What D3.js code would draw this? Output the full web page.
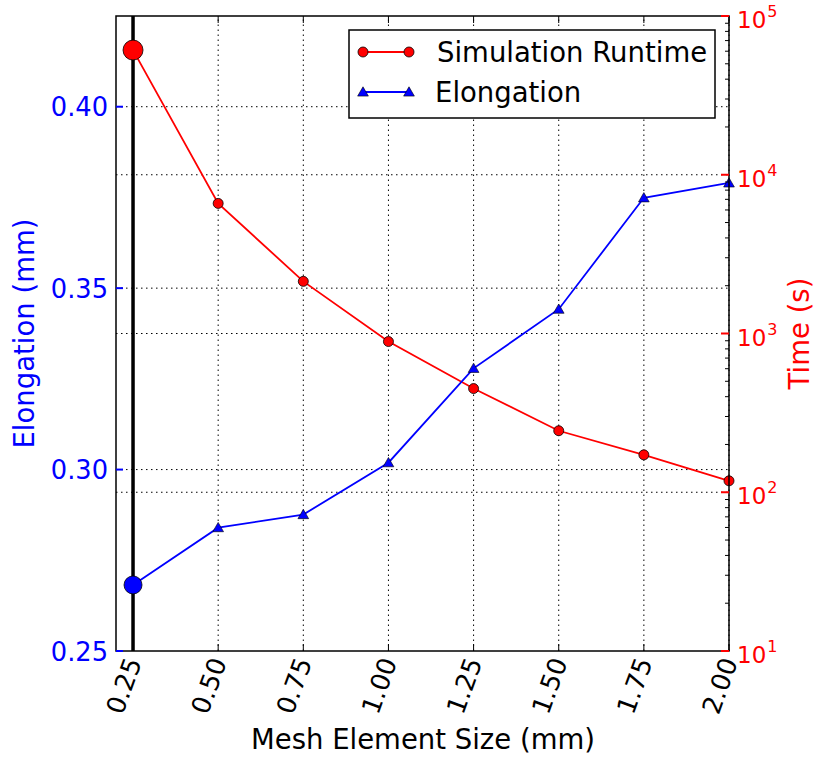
<!DOCTYPE html>
<html>
<head>
<meta charset="utf-8">
<script src="https://cdn.jsdelivr.net/npm/d3@7"></script>
<style>
  body { margin: 0; background: #fff; }
  text { font-family: "DejaVu Sans", sans-serif; }
</style>
</head>
<body>
<div id="viz"></div>
<script>
const meshSizes = [0.25, 0.50, 0.75, 1.00, 1.25, 1.50, 1.75, 2.00];
const runtime = [61000, 6600, 2130, 890, 450, 244, 172, 118];
const elongation = [0.2682, 0.2840, 0.2876, 0.3019, 0.3279, 0.3442, 0.3749, 0.3790];
const leftTicks = [0.25, 0.30, 0.35, 0.40];
const rightTicks = [10, 100, 1000, 10000, 100000];

const width = 814, height = 757;
const margin = {left: 116, right: 85, top: 16, bottom: 106};
const fontSize = 27.5;
const tickFont = 25.7;

const svg = d3.select("#viz").append("svg")
    .attr("width", width)
    .attr("height", height);

const x = d3.scaleLinear()
    .domain([0.2, 2.0])
    .range([margin.left, width - margin.right]);

const yLeft = d3.scaleLinear()
    .domain([0.25, 0.425])
    .range([height - margin.bottom, margin.top]);

const yRight = d3.scaleLog()
    .domain([10, 100000])
    .range([height - margin.bottom, margin.top]);

const x0 = margin.left, x1 = width - margin.right;
const y0 = height - margin.bottom, y1 = margin.top;

// grid lines
const grid = svg.append("g").attr("stroke", "black").attr("stroke-width", 1).attr("stroke-dasharray", "1.5,3.5");
grid.selectAll(".vgrid")
    .data(meshSizes)
    .join("line")
        .attr("x1", d => x(d)).attr("x2", d => x(d))
        .attr("y1", y0).attr("y2", y1);
grid.selectAll(".lgrid")
    .data(leftTicks.slice(1))
    .join("line")
        .attr("x1", x0).attr("x2", x1)
        .attr("y1", d => yLeft(d)).attr("y2", d => yLeft(d));
grid.selectAll(".rgrid")
    .data(rightTicks.slice(1, -1))
    .join("line")
        .attr("x1", x0).attr("x2", x1)
        .attr("y1", d => yRight(d)).attr("y2", d => yRight(d));

// black marker line at the finest mesh
svg.append("line")
    .attr("x1", x(0.25)).attr("x2", x(0.25))
    .attr("y1", y0).attr("y2", y1)
    .attr("stroke", "black").attr("stroke-width", 3.5);

// runtime series
const lineR = d3.line().x((d, i) => x(meshSizes[i])).y(d => yRight(d));
svg.append("path")
    .datum(runtime)
    .attr("d", lineR)
    .attr("fill", "none").attr("stroke", "red").attr("stroke-width", 1.8);

svg.selectAll(".rt-dot")
    .data(runtime)
    .join("circle")
        .attr("cx", (d, i) => x(meshSizes[i]))
        .attr("cy", d => yRight(d))
        .attr("r", (d, i) => i === 0 ? 10 : 5)
        .attr("fill", "red").attr("stroke", "black").attr("stroke-width", 0.8);

// elongation series
const lineE = d3.line().x((d, i) => x(meshSizes[i])).y(d => yLeft(d));
svg.append("path")
    .datum(elongation)
    .attr("d", lineE)
    .attr("fill", "none").attr("stroke", "blue").attr("stroke-width", 1.8);

const tri = d3.symbol().type(d3.symbolTriangle).size(50);
svg.selectAll(".el-tri")
    .data(elongation.slice(1))
    .join("path")
        .attr("d", tri)
        .attr("transform", (d, i) => `translate(${x(meshSizes[i + 1])},${yLeft(d) + 1})`)
        .attr("fill", "blue").attr("stroke", "black").attr("stroke-width", 0.6);

svg.append("circle")
    .attr("cx", x(meshSizes[0])).attr("cy", yLeft(elongation[0]))
    .attr("r", 9)
    .attr("fill", "blue").attr("stroke", "black").attr("stroke-width", 0.8);

// frame
svg.append("rect")
    .attr("x", x0).attr("y", y1)
    .attr("width", x1 - x0).attr("height", y0 - y1)
    .attr("fill", "none").attr("stroke", "black").attr("stroke-width", 1.5);

// x ticks (inside, top and bottom)
svg.selectAll(".xtick")
    .data(meshSizes)
    .join("path")
        .attr("d", d => `M${x(d)},${y0}v-7M${x(d)},${y1}v7`)
        .attr("stroke", "black").attr("stroke-width", 1);

svg.selectAll(".xlabel")
    .data(meshSizes)
    .join("text")
        .attr("transform", d => `translate(${x(d) + 9},${y0 + 11}) rotate(-70)`)
        .attr("text-anchor", "end")
        .attr("font-size", tickFont)
        .attr("fill", "black")
        .text(d => d3.format(".2f")(d));

// left ticks
svg.selectAll(".ltick")
    .data(leftTicks)
    .join("line")
        .attr("x1", x0).attr("x2", x0 + 7)
        .attr("y1", d => yLeft(d)).attr("y2", d => yLeft(d))
        .attr("stroke", "blue").attr("stroke-width", 2);

svg.selectAll(".llabel")
    .data(leftTicks)
    .join("text")
        .attr("x", x0 - 8)
        .attr("y", d => yLeft(d) + 9.5)
        .attr("text-anchor", "end")
        .attr("font-size", tickFont)
        .attr("fill", "blue")
        .text(d => d3.format(".2f")(d));

// right ticks: major red, minor black
const minor = [];
for (let e = 1; e < 5; e++) for (let m = 2; m < 10; m++) minor.push(m * Math.pow(10, e));
svg.selectAll(".rminor")
    .data(minor)
    .join("line")
        .attr("x1", x1).attr("x2", x1 - 4)
        .attr("y1", d => yRight(d)).attr("y2", d => yRight(d))
        .attr("stroke", "black").attr("stroke-width", 1);
svg.selectAll(".rtick")
    .data(rightTicks)
    .join("line")
        .attr("x1", x1).attr("x2", x1 - 8)
        .attr("y1", d => yRight(d)).attr("y2", d => yRight(d))
        .attr("stroke", "red").attr("stroke-width", 2);

const rLabels = svg.selectAll(".rlabel")
    .data(rightTicks)
    .join("text")
        .attr("x", x1 + 8)
        .attr("y", d => yRight(d) + 12)
        .attr("font-size", 23)
        .attr("fill", "red");
rLabels.append("tspan").text("10");
rLabels.append("tspan")
    .attr("dx", 1)
    .attr("dy", -11)
    .attr("font-size", 16)
    .text(d => Math.round(Math.log10(d)));

// axis titles
svg.append("text")
    .attr("x", 423).attr("y", 749)
    .attr("text-anchor", "middle")
    .attr("font-size", fontSize)
    .attr("fill", "black")
    .text("Mesh Element Size (mm)");

svg.append("text")
    .attr("transform", `translate(34,${(y0 + y1) / 2}) rotate(-90)`)
    .attr("text-anchor", "middle")
    .attr("font-size", fontSize)
    .attr("fill", "blue")
    .text("Elongation (mm)");

svg.append("text")
    .attr("transform", `translate(809,${(y0 + y1) / 2}) rotate(-90)`)
    .attr("text-anchor", "middle")
    .attr("font-size", fontSize)
    .attr("fill", "red")
    .text("Time (s)");

// legend
const legend = svg.append("g").attr("transform", "translate(349,30)");
legend.append("rect")
    .attr("width", 366).attr("height", 88)
    .attr("fill", "white").attr("stroke", "black").attr("stroke-width", 1.5);

const legendItems = [
    {label: "Simulation Runtime", color: "red", shape: "circle"},
    {label: "Elongation", color: "blue", shape: "triangle"}
];
const li = legend.selectAll(".li")
    .data(legendItems)
    .join("g")
        .attr("transform", (d, i) => `translate(0,${22 + i * 40})`);
li.append("line")
    .attr("x1", 14).attr("x2", 60)
    .attr("stroke", d => d.color).attr("stroke-width", 1.8);
li.each(function(d) {
    const g = d3.select(this);
    [14, 60].forEach(cx => {
        if (d.shape === "circle") {
            g.append("circle").attr("cx", cx).attr("r", 5)
                .attr("fill", d.color).attr("stroke", "black").attr("stroke-width", 0.8);
        } else {
            g.append("path").attr("d", tri).attr("transform", `translate(${cx},1)`)
                .attr("fill", d.color).attr("stroke", "black").attr("stroke-width", 0.6);
        }
    });
});
li.append("text")
    .attr("x", d => d.shape === "circle" ? 88 : 86)
    .attr("y", 10)
    .attr("font-size", fontSize)
    .attr("fill", "black")
    .text(d => d.label);
</script>
</body>
</html>
